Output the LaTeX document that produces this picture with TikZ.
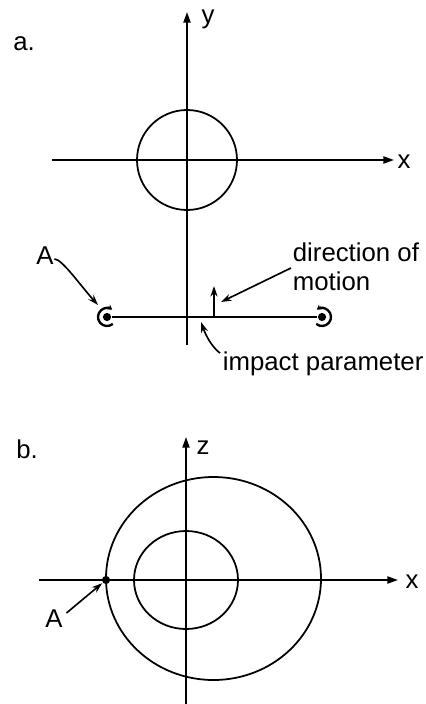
\documentclass[tikz,border=0pt]{standalone}
\usepackage{fontspec}
\setmainfont{Liberation Sans}
\usetikzlibrary{arrows.meta}

\tikzset{
  axis/.style={line width=1.5pt,-{Triangle[length=9pt,width=6pt]}},
  pointer/.style={line width=1.4pt,-{Stealth[length=9pt,width=6pt]}},
  lbl/.style={inner sep=0pt,font=\fontsize{22}{25}\selectfont},
  ring/.style={line width=2pt,-{Stealth[length=4pt,width=5pt]}},
  dot/.style={circle,fill,inner sep=0pt,minimum size=7pt},
}

\begin{document}
\begin{tikzpicture}[x=0.03cm,y=-0.03cm,line width=1.5pt]
\useasboundingbox (0,0) rectangle (426,704);
%
% a. -- orbit seen from above
	\node[lbl] (parta) at (24,44) {a.};
	\coordinate (oa) at (187,160);
	\coordinate (ya0) at (187,345);
	\coordinate (ya1) at (187,12);
	\coordinate (xa0) at (52,160);
	\coordinate (xa1) at (394,160);
	\draw[axis] (ya0) -- (ya1);
	\draw[axis] (xa0) -- (xa1);
	\node[lbl] (ylab) at (208,19) {y};
	\node[lbl] (xlaba) at (404,162) {x};
	\draw (oa) circle (50);
%
	\node[dot] (ringl) at (107,317) {};
	\node[dot] (ringr) at (322,317) {};
	\draw[line width=2pt] (ringl) -- (ringr);
	\draw[ring] ([shift={(50:9)}]ringl.center) arc (50:305:9);
	\draw[ring] ([shift={(130:9)}]ringr.center) arc (130:-125:9);
	\coordinate (mv0) at (214,317);
	\coordinate (mv1) at (214,286);
	\draw[pointer] (mv0) -- (mv1);
%
	\node[lbl,anchor=west,align=left] (dirlab) at (292,267) {direction of\\motion};
	\coordinate (dirtip) at (221,302);
	\draw[pointer] (dirlab.west) ++(-1,1) -- (dirtip);
	\node[lbl] (alab) at (45,256) {A};
	\coordinate (atip) at (98,305);
	\draw[pointer] (alab.east) ++(0,3) .. controls (62,259) and (80,285) .. (atip);
	\node[lbl,anchor=west] (implab) at (222,364) {impact parameter};
	\coordinate (imptip) at (201,322);
	\draw[pointer] (implab.north west) ++(-2,2) .. controls (212,347) and (206,336) .. (imptip);
%
% b. -- orbit seen edge on
	\node[lbl] (partb) at (27,449) {b.};
	\coordinate (ob) at (186,580);
	\coordinate (za0) at (186,704);
	\coordinate (za1) at (186,437);
	\coordinate (xb0) at (39,580);
	\coordinate (xb1) at (398,580);
	\draw[axis] (za0) -- (za1);
	\draw[axis] (xb0) -- (xb1);
	\node[lbl] (zlab) at (203,448) {z};
	\node[lbl] (xlabb) at (412,582) {x};
	\draw (ob) ellipse (52 and 49);
	\draw (213.5,578.5) ellipse (107.5 and 101.5);
	\node[dot] (pta) at (106,580) {};
	\node[lbl] (blab) at (54,619) {A};
	\draw[pointer] (blab.east) ++(3,-6) -- (pta);
\end{tikzpicture}
\end{document}
